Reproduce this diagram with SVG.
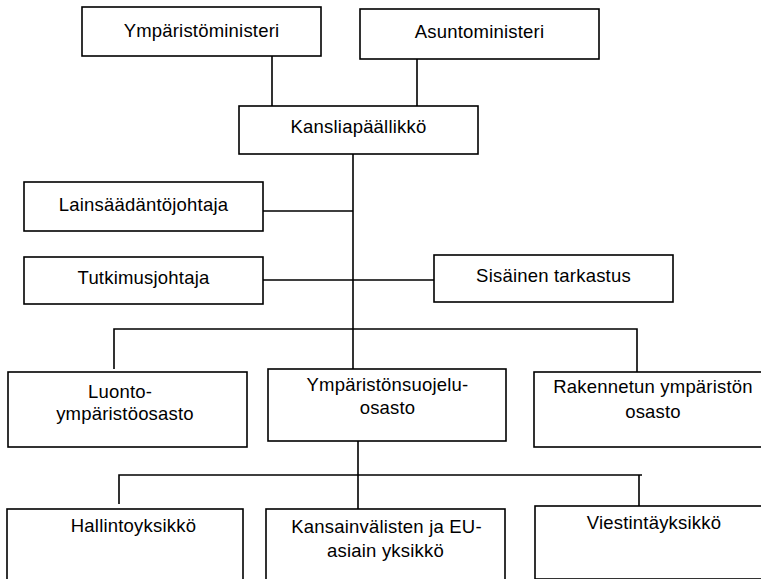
<svg xmlns="http://www.w3.org/2000/svg" width="761" height="579" viewBox="0 0 761 579">
<style>
rect{fill:#fff;stroke:#000;stroke-width:1.6}
text{font-family:"Liberation Sans",Arial,sans-serif;font-size:18.5px;letter-spacing:0.2px;fill:#000;text-anchor:middle}
#connectors path{fill:none;stroke:#000;stroke-width:1.6}
</style>
<rect x="0" y="0" width="761" height="579" style="stroke:none"/>
<g id="connectors">
<path d="M272 56V106M417 59V106"/>
<path d="M353 154V369"/>
<path d="M263 211H353M263 280H434"/>
<path d="M114 369V329H637V372"/>
<path d="M358 441V509M119 504V475H642M639 475V506"/>
</g>
<g id="n1"><rect x="82" y="7" width="239" height="49"/><text x="201.5" y="37">Ympäristöministeri</text></g>
<g id="n2"><rect x="360" y="9" width="239" height="50"/><text x="479.5" y="38">Asuntoministeri</text></g>
<g id="n3"><rect x="239" y="106" width="239" height="48"/><text x="358.5" y="133">Kansliapäällikkö</text></g>
<g id="n4"><rect x="24" y="182" width="239" height="49"/><text x="143.5" y="211">Lainsäädäntöjohtaja</text></g>
<g id="n5"><rect x="24" y="257" width="239" height="47"/><text x="143.5" y="284">Tutkimusjohtaja</text></g>
<g id="n6"><rect x="434" y="255" width="239" height="47"/><text x="553.5" y="282">Sisäinen tarkastus</text></g>
<g id="n7"><rect x="8" y="372" width="239" height="75"/><text x="120" y="398">Luonto-</text><text x="125" y="420">ympäristöosasto</text></g>
<g id="n8"><rect x="268" y="369" width="238" height="72"/><text x="387.5" y="391">Ympäristönsuojelu-</text><text x="387.5" y="414">osasto</text></g>
<g id="n9"><rect x="534" y="372" width="240" height="75"/><text x="653" y="393">Rakennetun ympäristön</text><text x="653" y="418">osasto</text></g>
<g id="n10"><rect x="7" y="509" width="236" height="80"/><text x="133.5" y="532">Hallintoyksikkö</text></g>
<g id="n11"><rect x="266" y="509" width="239" height="80"/><text x="386.5" y="533">Kansainvälisten ja EU-</text><text x="385.5" y="557">asiain yksikkö</text></g>
<g id="n12"><rect x="535" y="506" width="240" height="73"/><text x="654" y="529">Viestintäyksikkö</text></g>
</svg>
